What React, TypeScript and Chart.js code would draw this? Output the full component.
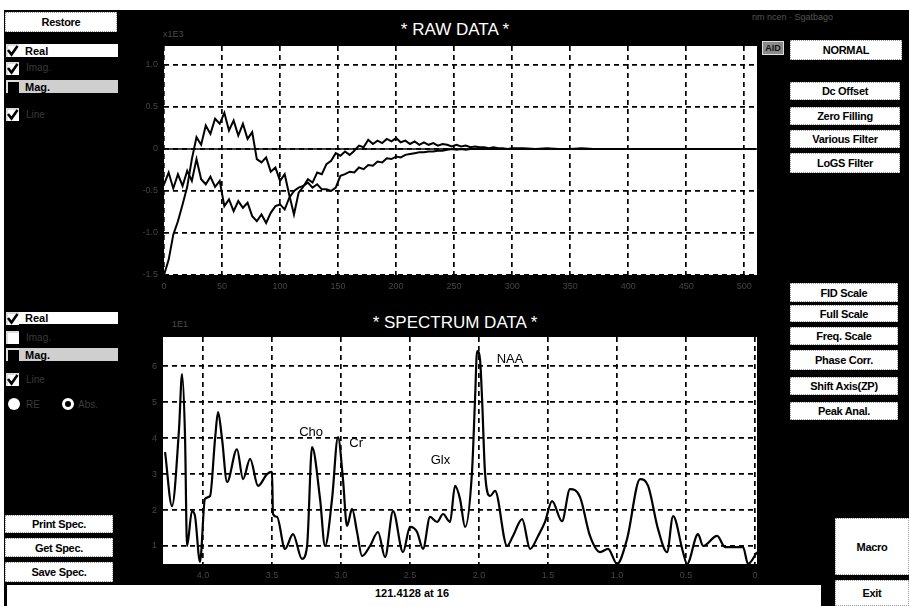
import React, { useEffect, useRef } from "react";
import { Chart, registerables } from "chart.js";
Chart.register(...registerables);

const FONT = "'Liberation Sans', Arial, Helvetica, sans-serif";
Chart.defaults.font.family = FONT;

// ---------- RAW DATA (FID) ----------
const fidIndex = [
  0, 4, 8, 12, 16, 20, 24, 28, 32, 36,
  40, 44, 48, 52, 56, 60, 64, 68, 72, 76,
  80, 84, 88, 92, 96, 100, 104, 108, 112, 116,
  120, 124, 128, 132, 136, 140, 144, 148, 152, 156,
  160, 164, 168, 172, 176, 180, 184, 188, 192, 196,
  200, 204, 208, 212, 216, 220, 224, 228, 232, 236,
  240, 244, 248, 252, 256, 260, 264, 268, 272, 276,
  280, 284, 288, 292, 296, 300,
  310, 320, 330, 340, 350, 360, 370, 380, 390, 400,
  410, 420, 430, 440, 450, 460, 470, 480, 490, 500, 510,
];
const fidReal = [
  -1.5, -1.32, -1.02, -0.86, -0.66, -0.45, -0.12, 0.14, 0.05, 0.28,
  0.18, 0.36, 0.3, 0.43, 0.22, 0.34, 0.16, 0.3, 0.12, 0.2,
  -0.12, -0.16, -0.1, -0.27, -0.22, -0.38, -0.3, -0.55, -0.78, -0.52,
  -0.45, -0.36, -0.4, -0.28, -0.3, -0.18, -0.14, -0.05, -0.08, -0.03,
  -0.07, -0.02, 0.04, 0.02, 0.11, 0.06, 0.1, 0.07, 0.12, 0.09,
  0.13, 0.08, 0.1, 0.06, 0.09, 0.05, 0.08, 0.05, 0.07, 0.04,
  0.06, 0.05, 0.03, 0.05, 0.03, 0.04, 0.02, 0.03, 0.02, 0.02,
  0.01, 0.02, 0.01, 0.01, 0.0, 0.01,
  0.01, 0.0, 0.01, 0.0, 0.0, 0.01, 0.0, 0.0, 0.0, 0.0,
  0.0, 0.0, 0.0, 0.0, 0.0, 0.0, 0.0, 0.0, 0.0, 0.0, 0.0,
];
const fidImag = [
  -0.42, -0.28, -0.47, -0.3, -0.44, -0.26, -0.38, -0.12, -0.36, -0.42,
  -0.33, -0.45, -0.38, -0.68, -0.6, -0.74, -0.62, -0.7, -0.64, -0.8,
  -0.86, -0.78, -0.88, -0.76, -0.68, -0.66, -0.72, -0.58, -0.5, -0.46,
  -0.44, -0.4, -0.46, -0.42, -0.48, -0.48, -0.5, -0.46, -0.32, -0.3,
  -0.27, -0.28, -0.22, -0.24, -0.19, -0.2, -0.15, -0.16, -0.11, -0.12,
  -0.09, -0.1, -0.07, -0.06, -0.05, -0.04, -0.04, -0.03, -0.03, -0.02,
  -0.02, -0.01, 0.0, -0.01, 0.0, -0.01, 0.0, 0.0, 0.0, 0.0,
  0.0, 0.0, 0.0, 0.0, 0.0, 0.0,
  0.0, 0.0, 0.0, 0.0, 0.0, 0.0, 0.0, 0.0, 0.0, 0.0,
  0.0, 0.0, 0.0, 0.0, 0.0, 0.0, 0.0, 0.0, 0.0, 0.0, 0.0,
];
const fidBaseline = [0, 0];
const fidBaselineX = [0, 511];
const fidXTicks = [0, 50, 100, 150, 200, 250, 300, 350, 400, 450, 500];
const fidYTicks = [-1.5, -1, -0.5, 0, 0.5, 1];
const fidXRange = [0, 511];
const fidYRange = [-1.5, 1.226];

// ---------- SPECTRUM DATA ----------
const specPpm = [
  4.275, 4.225, 4.174, 4.152, 4.13, 4.116, 4.08, 4.058, 4.022, 3.986,
  3.949, 3.913, 3.891, 3.862, 3.826, 3.754, 3.71, 3.659, 3.601, 3.536,
  3.5, 3.493, 3.464, 3.406, 3.348, 3.283, 3.246, 3.21, 3.152, 3.116,
  3.065, 3.022, 2.986, 2.957, 2.92, 2.884, 2.848, 2.79, 2.732, 2.681,
  2.623, 2.551, 2.5, 2.449, 2.406, 2.355, 2.304, 2.261, 2.21, 2.174,
  2.138, 2.101, 2.051, 2.029, 2.014, 1.993, 1.978, 1.957, 1.92, 1.884,
  1.797, 1.754, 1.688, 1.63, 1.572, 1.522, 1.471, 1.399, 1.341, 1.268,
  1.196, 1.123, 1.065, 1.0, 0.928, 0.833, 0.775, 0.703, 0.638, 0.594,
  0.522, 0.493, 0.413, 0.377, 0.275, 0.217, 0.145, 0.087, 0.051, -0.014,
];
const specValues = [
  3.61, 2.11, 4.25, 5.78, 3.97, 1.0, 1.97, 1.83, 0.56, 2.31,
  2.39, 3.97, 4.72, 3.97, 2.78, 3.69, 2.86, 3.42, 2.67, 3.0,
  3.06, 1.89, 1.81, 0.92, 1.33, 0.64, 1.0, 3.75, 2.31, 1.0,
  2.31, 4.03, 2.86, 1.56, 2.03, 1.39, 0.72, 1.0, 1.39, 0.69,
  1.97, 0.83, 1.53, 1.39, 0.92, 1.81, 1.67, 1.89, 1.67, 2.67,
  2.31, 1.53, 3.06, 5.08, 6.42, 6.19, 5.08, 3.06, 2.39, 2.53,
  1.0, 1.28, 1.75, 0.92, 1.28, 1.67, 2.25, 1.69, 2.58, 2.36,
  1.28, 0.83, 0.92, 0.5, 1.19, 2.86, 2.67, 1.47, 0.83, 1.83,
  0.83, 0.5, 1.33, 1.0, 1.28, 0.97, 0.97, 0.97, 0.5, 0.83,
];
const specXTicks = [0, 0.5, 1, 1.5, 2, 2.5, 3, 3.5, 4];
const specYTicks = [1, 2, 3, 4, 5, 6];
const specXRange = [-0.014, 4.29];
const specYRange = [0.5, 6.81];
const peakNames = ["Cho", "Cr", "Glx", "NAA"];
const peakPpm = [3.217, 2.89, 2.28, 1.775];
const peakLabelY = [4.17, 3.86, 3.39, 6.19];

// ---------- helpers ----------
const whiteArea = {
  id: "whiteArea",
  beforeDraw(chart: any) {
    const { ctx, chartArea: a } = chart;
    ctx.save();
    ctx.fillStyle = "#fff";
    ctx.fillRect(a.left, a.top, a.width, a.height);
    ctx.restore();
  },
};

const peakLabels = {
  id: "peakLabels",
  afterDatasetsDraw(chart: any) {
    const { ctx, scales } = chart;
    ctx.save();
    ctx.fillStyle = "#000";
    ctx.font = `13px ${FONT}`;
    ctx.textAlign = "center";
    ctx.textBaseline = "middle";
    peakNames.forEach((n, i) => {
      ctx.fillText(n, scales.x.getPixelForValue(peakPpm[i]), scales.y.getPixelForValue(peakLabelY[i]));
    });
    ctx.restore();
  },
};

function axis(range: number[], ticks: number[], size: number, isX: boolean, reverse = false) {
  return {
    type: "linear",
    min: range[0],
    max: range[1],
    reverse,
    afterBuildTicks: (s: any) => {
      s.ticks = ticks.map((v) => ({ value: v }));
    },
    afterFit: (s: any) => {
      if (isX) s.height = size;
      else s.width = size;
    },
    grid: { color: "#000", lineWidth: 1.7, drawTicks: false },
    border: { display: false, dash: [5, 4] },
    ticks: {
      color: "#454545",
      font: { size: 9, family: FONT },
      padding: 6,
      autoSkip: false,
      maxRotation: 0,
    },
  };
}

function ChartCanvas({ left, top, width, height, build }: any) {
  const ref = useRef<HTMLCanvasElement>(null);
  useEffect(() => {
    const chart = new Chart(ref.current as HTMLCanvasElement, build());
    return () => chart.destroy();
  }, []);
  return (
    <canvas
      ref={ref}
      width={width}
      height={height}
      style={{ position: "absolute", left, top, width, height }}
    />
  );
}

const buildFid = (): any => ({
  type: "line",
  data: {
    datasets: [
      {
        data: fidBaselineX.map((x, i) => ({ x, y: fidBaseline[i] })),
        borderColor: "#000",
        borderWidth: 1.5,
        pointRadius: 0,
        tension: 0,
      },
      {
        data: fidIndex.map((x, i) => ({ x, y: fidImag[i] })),
        borderColor: "#000",
        borderWidth: 2,
        pointRadius: 0,
        tension: 0,
      },
      {
        data: fidIndex.map((x, i) => ({ x, y: fidReal[i] })),
        borderColor: "#000",
        borderWidth: 2,
        pointRadius: 0,
        tension: 0,
      },
    ],
  },
  options: {
    responsive: false,
    animation: false,
    devicePixelRatio: 1,
    layout: { padding: { top: 16, right: 13, left: 0, bottom: 0 } },
    plugins: { legend: { display: false }, tooltip: { enabled: false } },
    scales: {
      x: axis(fidXRange, fidXTicks, 25, true),
      y: axis(fidYRange, fidYTicks, 44, false),
    },
  },
  plugins: [whiteArea],
});

const buildSpec = (): any => ({
  type: "line",
  data: {
    datasets: [
      {
        data: specPpm.map((x, i) => ({ x, y: specValues[i] })),
        borderColor: "#000",
        borderWidth: 2.2,
        pointRadius: 0,
        cubicInterpolationMode: "monotone",
      },
    ],
  },
  options: {
    responsive: false,
    animation: false,
    devicePixelRatio: 1,
    layout: { padding: { top: 15, right: 13, left: 0, bottom: 0 } },
    plugins: { legend: { display: false }, tooltip: { enabled: false } },
    scales: {
      x: axis(specXRange, specXTicks, 21, true, true),
      y: axis(specYRange, specYTicks, 43, false),
    },
  },
  plugins: [whiteArea, peakLabels],
});

// ---------- UI pieces ----------
function Btn({ x, y, w, h, label, size = 11 }: any) {
  return (
    <div
      style={{
        position: "absolute",
        left: x,
        top: y,
        width: w,
        height: h,
        background: "#fff",
        boxSizing: "border-box",
        border: "1px dotted #9a9a9a",
        display: "flex",
        alignItems: "center",
        justifyContent: "center",
        font: `bold ${size}px ${FONT}`,
        color: "#000",
        letterSpacing: -0.3,
      }}
    >
      {label}
    </div>
  );
}

function Check({ x, y, s = 13, checked = false, empty = false }: any) {
  return (
    <div
      style={{
        position: "absolute",
        left: x,
        top: y,
        width: s,
        height: s,
        boxSizing: "border-box",
        background: empty ? "#000" : "#fff",
        borderTop: "2px solid #ddd",
        borderLeft: "2px solid #ddd",
      }}
    >
      {checked && (
        <svg width={s} height={s} style={{ position: "absolute", left: -2, top: -2 }}>
          <path d="M2 6 L5.5 10.5 L11.5 2" stroke="#000" strokeWidth="2.6" fill="none" />
        </svg>
      )}
    </div>
  );
}

function Txt({ x, y, children, size = 10, color = "#3a3a3a", bold = false, w, align }: any) {
  return (
    <div
      style={{
        position: "absolute",
        left: x,
        top: y,
        width: w,
        textAlign: align,
        font: `${bold ? "bold " : ""}${size}px ${FONT}`,
        color,
        whiteSpace: "nowrap",
        lineHeight: 1,
      }}
    >
      {children}
    </div>
  );
}

function LabelBox({ x, y, w, h, label, bg = "#fff" }: any) {
  return (
    <div
      style={{
        position: "absolute",
        left: x,
        top: y,
        width: w,
        height: h,
        background: bg,
        font: `bold 11px ${FONT}`,
        color: "#000",
        display: "flex",
        alignItems: "center",
        paddingLeft: 6,
        boxSizing: "border-box",
      }}
    >
      {label}
    </div>
  );
}

export default function App() {
  return (
    <div
      style={{
        position: "absolute",
        left: 0,
        top: 0,
        width: 909,
        height: 606,
        background: "#fff",
        overflow: "hidden",
        fontFamily: FONT,
      }}
    >
      {/* black panel */}
      <div style={{ position: "absolute", left: 4, top: 10, width: 905, height: 596, background: "#000" }} />

      {/* titles */}
      <Txt x={300} y={21} w={310} align="center" size={17} color="#fff">* RAW DATA *</Txt>
      <Txt x={300} y={314} w={310} align="center" size={17} color="#fff">* SPECTRUM DATA *</Txt>
      <Txt x={163} y={30} size={9} color="#4a4a4a">x1E3</Txt>
      <Txt x={172} y={320} size={9} color="#4a4a4a">1E1</Txt>
      <Txt x={752} y={13} size={9} color="#555">nm ncen ·  Sgatbago</Txt>

      {/* charts */}
      <ChartCanvas left={120} top={30} width={650} height={270} build={buildFid} />
      <ChartCanvas left={120} top={322} width={650} height={263} build={buildSpec} />

      {/* left panel top */}
      <Btn x={5} y={12} w={112} h={20} label="Restore" />
      <Check x={6} y={44} checked />
      <LabelBox x={19} y={44} w={99} h={13} label="Real" />
      <Check x={6} y={62} checked />
      <Txt x={26} y={63} size={10}>Imag.</Txt>
      <Check x={6} y={80} empty />
      <LabelBox x={19} y={80} w={99} h={13} label="Mag." bg="#cfcfcf" />
      <Check x={6} y={108} checked />
      <Txt x={26} y={110} size={10}>Line</Txt>

      {/* left panel bottom */}
      <Check x={6} y={312} checked />
      <LabelBox x={19} y={312} w={99} h={12} label="Real" />
      <Check x={6} y={331} />
      <Txt x={26} y={333} size={10}>Imag.</Txt>
      <Check x={6} y={348} empty />
      <LabelBox x={19} y={348} w={99} h={13} label="Mag." bg="#cfcfcf" />
      <Check x={6} y={373} checked />
      <Txt x={26} y={375} size={10}>Line</Txt>
      <div style={{ position: "absolute", left: 8, top: 398, width: 12, height: 12, borderRadius: 6, background: "#fff" }} />
      <Txt x={26} y={400} size={10}>RE</Txt>
      <div style={{ position: "absolute", left: 62, top: 398, width: 12, height: 12, borderRadius: 6, background: "#fff", boxSizing: "border-box", border: "3px solid #fff" }}>
        <div style={{ width: 6, height: 6, borderRadius: 3, background: "#000" }} />
      </div>
      <Txt x={78} y={400} size={10}>Abs.</Txt>

      <Btn x={5} y={515} w={108} h={18} label="Print Spec." />
      <Btn x={5} y={538} w={108} h={19} label="Get Spec." />
      <Btn x={5} y={562} w={108} h={20} label="Save Spec." />

      {/* right panel */}
      <div style={{ position: "absolute", left: 762, top: 41, width: 22, height: 14, background: "#8a8a8a", border: "1px solid #ddd", boxSizing: "border-box", font: `bold 9px ${FONT}`, color: "#111", textAlign: "center", lineHeight: "12px" }}>AID</div>
      <Btn x={790} y={40} w={112} h={20} label="NORMAL" />
      <Btn x={790} y={82} w={110} h={18} label="Dc Offset" />
      <Btn x={790} y={107} w={110} h={18} label="Zero Filling" />
      <Btn x={790} y={130} w={110} h={18} label="Various Filter" />
      <Btn x={790} y={153} w={110} h={20} label="LoGS Filter" />

      <Btn x={790} y={283} w={108} h={19} label="FID Scale" />
      <Btn x={790} y={305} w={108} h={17} label="Full Scale" />
      <Btn x={790} y={327} w={108} h={18} label="Freq. Scale" />
      <Btn x={790} y={350} w={108} h={20} label="Phase Corr." />
      <Btn x={790} y={377} w={108} h={18} label="Shift Axis(ZP)" />
      <Btn x={790} y={402} w={108} h={18} label="Peak Anal." />

      <Btn x={835} y={518} w={74} h={57} label="Macro" />
      <Btn x={835} y={580} w={74} h={26} label="Exit" />

      {/* status bar */}
      <div style={{ position: "absolute", left: 7, top: 585, width: 814, height: 21, background: "#fff" }} />
      <Txt x={300} y={588} w={224} align="center" size={11} bold color="#000">121.4128  at  16</Txt>
    </div>
  );
}
